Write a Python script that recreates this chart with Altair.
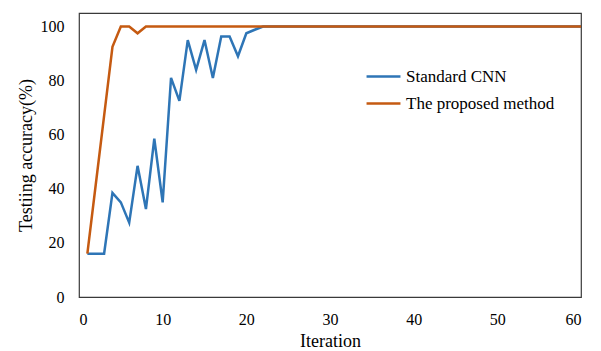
import altair as alt
import pandas as pd

# Iteration numbers (1..60)
iterations = list(range(1, 61))

# Testing accuracy (%) per iteration for each model
standard_cnn = [
    16, 16, 16, 38.5, 35, 27.5, 48.5, 32.5, 58.5, 35,
    81, 72.5, 95, 84, 95, 81, 96.3, 96.3, 89, 97.5,
    98.8, 100, 100, 100, 100, 100, 100, 100, 100, 100,
    100, 100, 100, 100, 100, 100, 100, 100, 100, 100,
    100, 100, 100, 100, 100, 100, 100, 100, 100, 100,
    100, 100, 100, 100, 100, 100, 100, 100, 100, 100,
]
proposed = [
    16, 41.5, 67, 92.5, 100, 100, 97.5, 100, 100, 100,
    100, 100, 100, 100, 100, 100, 100, 100, 100, 100,
    100, 100, 100, 100, 100, 100, 100, 100, 100, 100,
    100, 100, 100, 100, 100, 100, 100, 100, 100, 100,
    100, 100, 100, 100, 100, 100, 100, 100, 100, 100,
    100, 100, 100, 100, 100, 100, 100, 100, 100, 100,
]

series_names = ["Standard CNN", "The proposed method"]
series_colors = ["#2E75B6", "#C55A11"]

df_cnn = pd.DataFrame({"Iteration": iterations, "Accuracy": standard_cnn, "Model": series_names[0]})
df_prop = pd.DataFrame({"Iteration": iterations, "Accuracy": proposed, "Model": series_names[1]})

FONT = "Liberation Serif"

x_enc = alt.X(
    "Iteration:Q",
    scale=alt.Scale(domain=[0, 60], nice=False, zero=False),
    axis=alt.Axis(values=[0, 10, 20, 30, 40, 50, 60], title="Iteration", grid=False,
                  ticks=False, domain=False, labelPadding=14, titlePadding=5),
)
y_enc = alt.Y(
    "Accuracy:Q",
    scale=alt.Scale(domain=[0, 105], nice=False),
    axis=alt.Axis(values=[0, 20, 40, 60, 80, 100], title="Testiing accuracy(%)", grid=False,
                  ticks=False, domain=False, labelPadding=15, titlePadding=5),
)
color_enc = alt.Color(
    "Model:N",
    scale=alt.Scale(domain=series_names, range=series_colors),
    legend=alt.Legend(title=None, orient="none", legendX=286, legendY=45,
                      symbolType="stroke", symbolSize=1150, symbolStrokeWidth=2.5,
                      labelFontSize=17, labelFont=FONT, labelColor="#000000",
                      rowPadding=0, labelOffset=4, labelLimit=300),
)

cnn_line = alt.Chart(df_cnn).mark_line(strokeWidth=2.5).encode(x=x_enc, y=y_enc, color=color_enc)
prop_line = alt.Chart(df_prop).mark_line(strokeWidth=2.5).encode(x=x_enc, y=y_enc, color=color_enc)

chart = (
    alt.layer(cnn_line, prop_line)
    .properties(
        width=502,
        height=284,
        autosize=alt.AutoSizeParams(type="none"),
        padding={"left": 79, "top": 13, "right": 20, "bottom": 54},
        background="white",
    )
    .configure_view(stroke="#3a3a3a", strokeWidth=1.2)
    .configure_axis(
        labelFont=FONT, titleFont=FONT, labelFontSize=16, titleFontSize=18,
        labelColor="#000000", titleColor="#000000", titleFontWeight="normal",
    )
)

chart.save("out.html", embed_options={"renderer": "svg", "actions": False})
